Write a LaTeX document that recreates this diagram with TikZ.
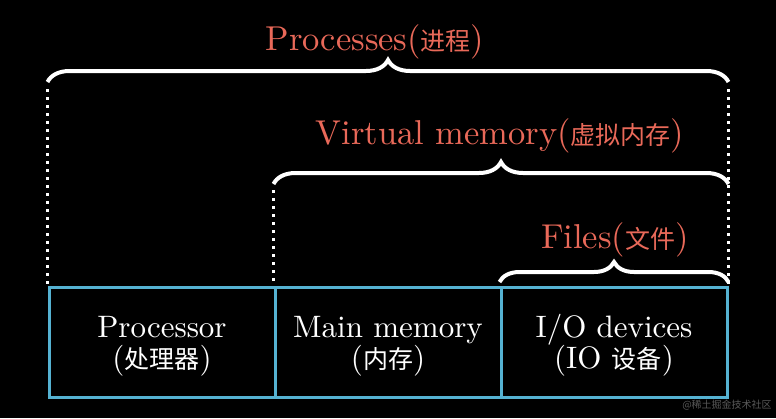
\documentclass[tikz,border=0pt]{standalone}
\usepackage{fontspec}
\setmainfont{lmroman10-regular}[Extension=.otf]
\newfontfamily\cjk{Noto Sans CJK SC}
\usepackage{xcolor}
\usetikzlibrary{decorations.pathreplacing}
\definecolor{cellblue}{HTML}{55B2D2}
\definecolor{tagred}{HTML}{E96959}
\newcommand{\zh}[1]{{\cjk\fontsize{25}{30}\selectfont #1}}
\newcommand{\topgap}{\rule{0pt}{30pt}}

\begin{document}
\begin{tikzpicture}[x=1pt, y=-1pt,
  cell/.style={draw=cellblue, line width=3pt, minimum width=226pt, minimum height=110pt,
    inner sep=0pt, align=center, text=white, font=\fontsize{31}{31}\selectfont},
  tag/.style={text=tagred, font=\fontsize{34.5}{40}\selectfont, inner sep=0pt, anchor=base},
  curly/.style={draw=white, line width=4pt, decorate, decoration={brace, amplitude=22pt}},
  dotline/.style={draw=white, line width=3pt, dash pattern=on 3pt off 5pt}]

\fill[black] (0,0) rectangle (776,418);
\useasboundingbox (0,0) rectangle (776,418);

\node[cell] (proc) at (162,342) {\topgap Processor\\(\zh{处理器})};
\node[cell] (mem) at (388,342) {\topgap Main memory\\(\zh{内存})};
\node[cell] (io) at (614,342) {\topgap I/O devices\\(IO \zh{设备})};

\draw[dotline] (proc.north west |- 0,89) -- (proc.north west);
\draw[dotline] (io.north east |- 0,89) -- (io.north east);
\draw[dotline] (mem.north west |- 0,190) -- (mem.north west);

\draw[curly] (proc.north west |- 0,82) -- (io.north east |- 0,82);
\draw[curly] (mem.north west |- 0,184) -- (io.north east |- 0,184);
\draw[curly, decoration={amplitude=20pt}] (io.north west |- 0,282) -- (io.north east |- 0,282);

\node[tag] (procs) at (375,50) {Processes(\zh{进程})};
\node[tag] (virt) at (500,144) {Virtual memory(\zh{虚拟内存})};
\node[tag] (files) at (615,248) {Files(\zh{文件})};

\node[text=gray!70!black, font=\cjk\fontsize{10}{12}\selectfont] (mark) at (727,405) {@稀土掘金技术社区};

\end{tikzpicture}
\end{document}
